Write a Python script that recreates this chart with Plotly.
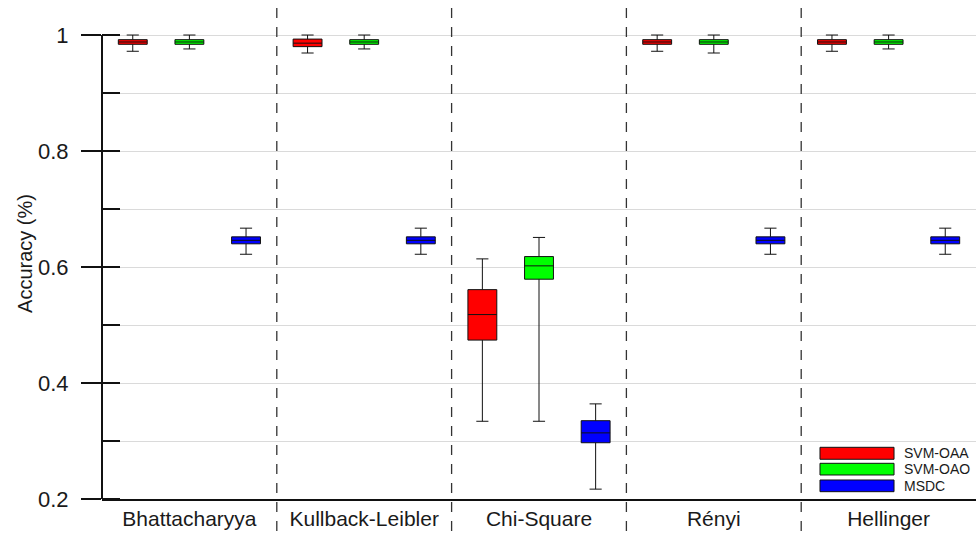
import plotly.graph_objects as go

# Distance measures on the x axis and the three classifiers compared
categories = ["Bhattacharyya", "Kullback-Leibler", "Chi-Square", "Rényi", "Hellinger"]
series_names = ["SVM-OAA", "SVM-OAO", "MSDC"]
series_colors = ["#ff0000", "#00ff00", "#0000ff"]

# Five-number summaries (lower whisker, Q1, median, Q3, upper whisker) per measure
oaa_low = [0.972, 0.969, 0.334, 0.972, 0.972]
oaa_q1 = [0.984, 0.980, 0.474, 0.984, 0.984]
oaa_med = [0.988, 0.986, 0.518, 0.988, 0.988]
oaa_q3 = [0.992, 0.993, 0.561, 0.992, 0.992]
oaa_high = [1.0, 1.0, 0.614, 1.0, 1.0]

oao_low = [0.976, 0.976, 0.334, 0.969, 0.976]
oao_q1 = [0.984, 0.984, 0.579, 0.984, 0.984]
oao_med = [0.988, 0.988, 0.602, 0.988, 0.988]
oao_q3 = [0.992, 0.992, 0.618, 0.992, 0.992]
oao_high = [1.0, 1.0, 0.651, 1.0, 1.0]

msdc_low = [0.622, 0.622, 0.217, 0.622, 0.622]
msdc_q1 = [0.640, 0.640, 0.297, 0.640, 0.640]
msdc_med = [0.646, 0.646, 0.314, 0.646, 0.646]
msdc_q3 = [0.652, 0.652, 0.335, 0.652, 0.652]
msdc_high = [0.667, 0.667, 0.364, 0.667, 0.667]

stats = [
    (oaa_low, oaa_q1, oaa_med, oaa_q3, oaa_high),
    (oao_low, oao_q1, oao_med, oao_q3, oao_high),
    (msdc_low, msdc_q1, msdc_med, msdc_q3, msdc_high),
]

y_ticks = [0.2, 0.4, 0.6, 0.8, 1.0]
y_tick_text = ["0.2", "0.4", "0.6", "0.8", "1"]

FONT = "Liberation Sans, Arial, sans-serif"
TEXT = "#1a1a1a"

fig = go.Figure()
for name, color, (lo, q1, med, q3, hi) in zip(series_names, series_colors, stats):
    fig.add_trace(go.Box(
        name=name,
        x=categories,
        lowerfence=lo,
        q1=q1,
        median=med,
        q3=q3,
        upperfence=hi,
        fillcolor=color,
        line=dict(color="#111111", width=1),
        whiskerwidth=0.42,
        showlegend=False,
        hoverinfo="skip",
    ))

shapes = []
# dashed separators between measures, running past the axis into the label strip
for i in range(len(categories) - 1):
    shapes.append(dict(
        type="line", xref="x", yref="paper",
        x0=i + 0.5, x1=i + 0.5, y0=1.0, y1=-0.08,
        line=dict(color="#333333", width=1.3, dash="10px,9px"),
        layer="above",
    ))
# left axis spine, spanning only the labelled range
shapes.append(dict(
    type="line", xref="paper", yref="y",
    x0=0, x1=0, y0=0.2, y1=1.0,
    line=dict(color="#111111", width=2),
))

# legend with wide colour swatches in the lower-right corner
annotations = []
legend_rows = [(0.0809, 0.1053), (0.0489, 0.0727), (0.0149, 0.0387)]
for name, color, (y0, y1) in zip(series_names, series_colors, legend_rows):
    shapes.append(dict(
        type="rect", xref="paper", yref="paper",
        x0=0.8215, x1=0.9062, y0=y0, y1=y1,
        fillcolor=color, line=dict(color="#111111", width=1),
    ))
    annotations.append(dict(
        xref="paper", yref="paper", x=0.9150, y=(y0 + y1) / 2,
        text=name, showarrow=False, xanchor="left", yanchor="middle",
        font=dict(family=FONT, size=14, color=TEXT),
    ))

fig.update_layout(
    width=976, height=533,
    margin=dict(l=102, r=0, t=8, b=34),
    paper_bgcolor="white", plot_bgcolor="white",
    boxmode="group", boxgap=0.028, boxgroupgap=0.49,
    hovermode=False,
    font=dict(family=FONT, color=TEXT),
    shapes=shapes,
    annotations=annotations,
    xaxis=dict(
        type="category",
        showline=True, linecolor="#111111", linewidth=2,
        ticks="", showgrid=False, zeroline=False,
        tickfont=dict(family=FONT, size=21, color=TEXT),
    ),
    yaxis=dict(
        range=[0.2, 1.0466],
        tickmode="array", tickvals=y_ticks, ticktext=y_tick_text,
        ticks="outside", ticklen=20, tickwidth=1.5, tickcolor="#111111",
        ticklabelstandoff=8,
        showline=False, zeroline=False,
        showgrid=True, gridcolor="#dadada", gridwidth=1,
        minor=dict(dtick=0.1, tick0=0.2, ticks="inside", ticklen=18,
                   tickwidth=1.5, tickcolor="#111111",
                   showgrid=True, gridcolor="#dadada", gridwidth=1),
        tickfont=dict(family=FONT, size=22, color=TEXT),
        title=dict(text="Accuracy (%)", font=dict(family=FONT, size=20, color=TEXT),
                   standoff=0),
    ),
)

fig.write_html("out.html")
